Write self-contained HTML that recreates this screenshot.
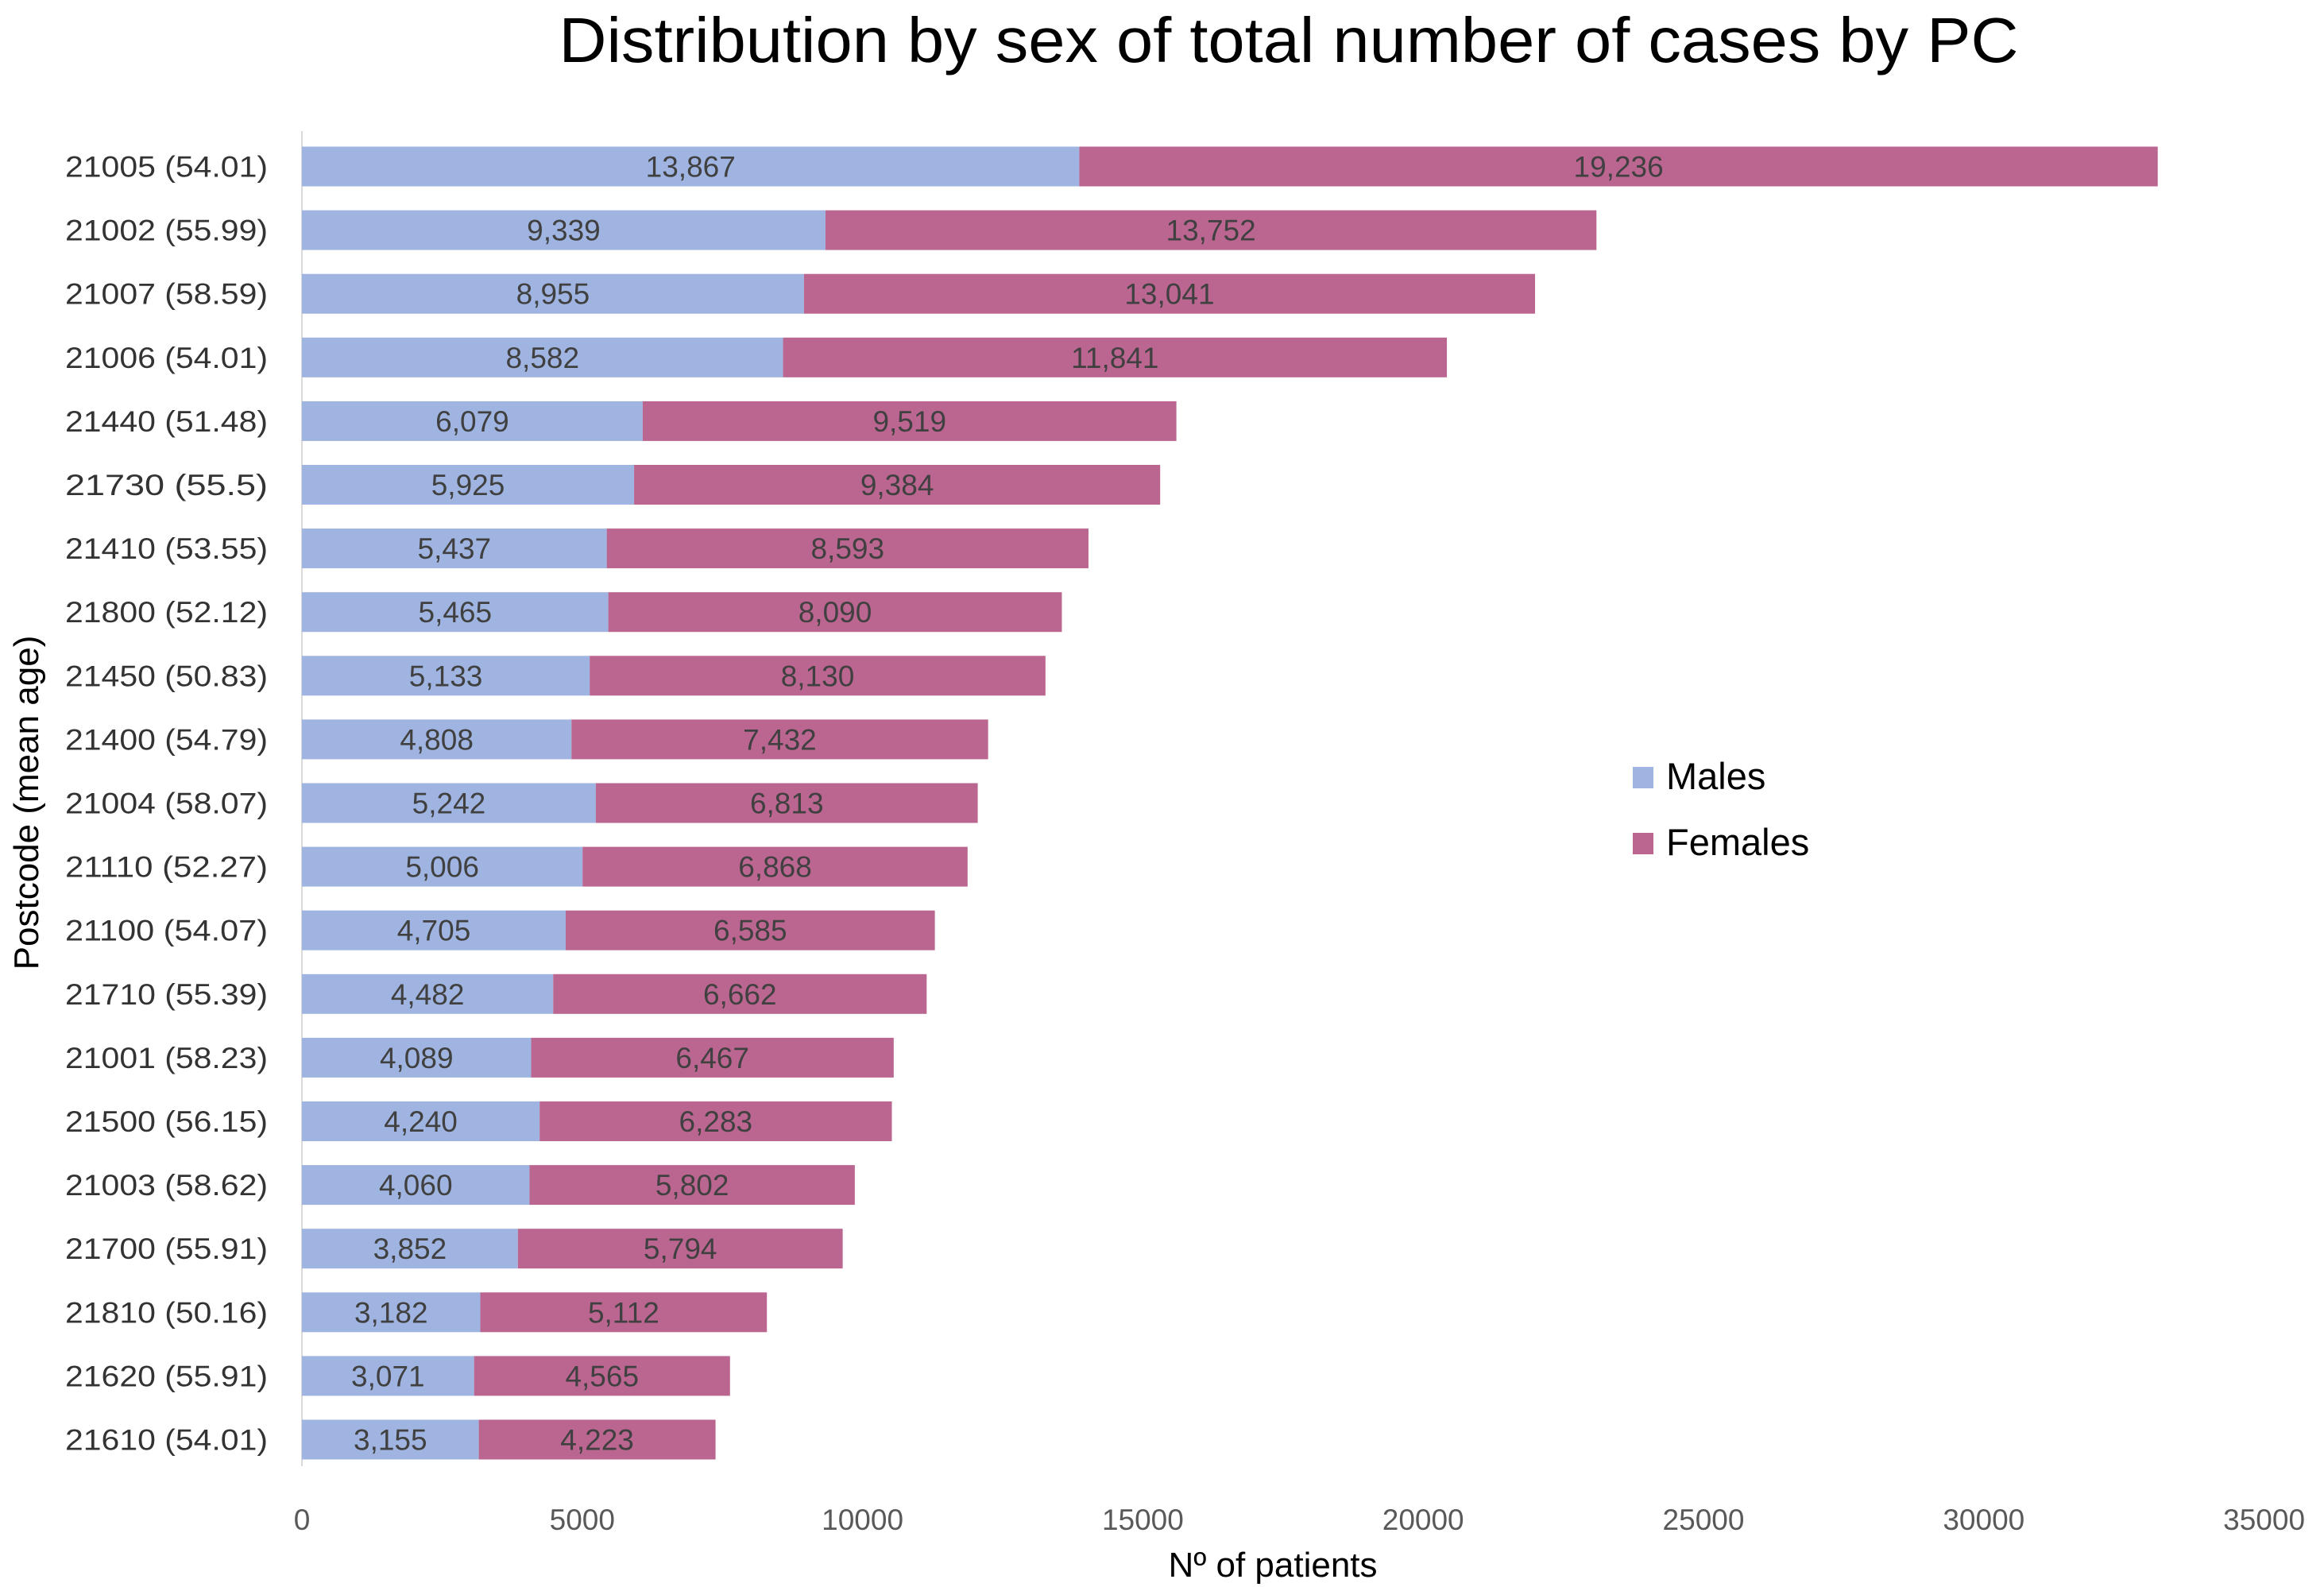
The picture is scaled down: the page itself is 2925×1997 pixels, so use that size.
<!DOCTYPE html>
<html><head><meta charset="utf-8"><style>
html,body{margin:0;padding:0;background:#fff}
svg{display:block}
text{font-family:"Liberation Sans",sans-serif}
</style></head><body>
<svg id="chart" width="2925" height="1997" viewBox="0 0 2925 1997" xmlns="http://www.w3.org/2000/svg">
<text x="1622" y="78" font-size="80" text-anchor="middle" textLength="1837" lengthAdjust="spacingAndGlyphs" fill="#000">Distribution by sex of total number of cases by PC</text>
<line x1="380" y1="165" x2="380" y2="1845" stroke="#d9d9d9" stroke-width="2"/>
<g id="bars"></g>
<g id="ticks"></g>
<text x="1602" y="1984" font-size="44" text-anchor="middle" fill="#000">Nº of patients</text>
<text transform="translate(48,1010) rotate(-90)" font-size="44" text-anchor="middle" fill="#000">Postcode (mean age)</text>
<g>
<rect x="2055" y="965" width="26" height="27" fill="#9fb4e0"/>
<text x="2097" y="993" font-size="47" fill="#000">Males</text>
<rect x="2055" y="1048" width="26" height="27" fill="#bb6690"/>
<text x="2097" y="1076" font-size="47" fill="#000">Females</text>
</g>
</svg>
<script>
const categories = ["21005 (54.01)","21002 (55.99)","21007 (58.59)","21006 (54.01)","21440 (51.48)","21730 (55.5)","21410 (53.55)","21800 (52.12)","21450 (50.83)","21400 (54.79)","21004 (58.07)","21110 (52.27)","21100 (54.07)","21710 (55.39)","21001 (58.23)","21500 (56.15)","21003 (58.62)","21700 (55.91)","21810 (50.16)","21620 (55.91)","21610 (54.01)"];
const males = [13867,9339,8955,8582,6079,5925,5437,5465,5133,4808,5242,5006,4705,4482,4089,4240,4060,3852,3182,3071,3155];
const females = [19236,13752,13041,11841,9519,9384,8593,8090,8130,7432,6813,6868,6585,6662,6467,6283,5802,5794,5112,4565,4223];
const xTicks = [0,5000,10000,15000,20000,25000,30000,35000];

const NS = "http://www.w3.org/2000/svg";
const X0 = 380, PX_PER = 352.8/5000;
const xs = v => X0 + v*PX_PER;
const Y0 = 209.5, STEP = 80.1, BH = 50;
const ys = i => Y0 + i*STEP;
const fmt = v => v.toLocaleString("en-US");
const bars = document.getElementById("bars");
const ticks = document.getElementById("ticks");
function mk(tag, attrs, parent){const e=document.createElementNS(NS,tag);for(const k in attrs)e.setAttribute(k,attrs[k]);parent.appendChild(e);return e;}

categories.forEach((c,i)=>{
  const cy = ys(i);
  const lab = mk("text",{x:337,y:cy+13,"font-size":37,"text-anchor":"end",fill:"#333",textLength:255,lengthAdjust:"spacingAndGlyphs"},bars);
  lab.textContent = c;
  
  
  const m = mk("rect",{x:xs(0),y:cy-BH/2,width:xs(males[i])-xs(0),height:BH,fill:"#9fb4e0"},bars);
  
  
  const f = mk("rect",{x:xs(males[i]),y:cy-BH/2,width:xs(males[i]+females[i])-xs(males[i]),height:BH,fill:"#bb6690"},bars);
  
  
  const mt = mk("text",{x:(xs(0)+xs(males[i]))/2,y:cy+13,"font-size":37,"text-anchor":"middle",fill:"#404040"},bars);
  mt.textContent = fmt(males[i]);
  
  
  const ft = mk("text",{x:(xs(males[i])+xs(males[i]+females[i]))/2,y:cy+13,"font-size":37,"text-anchor":"middle",fill:"#404040"},bars);
  ft.textContent = fmt(females[i]);
  
  
});
xTicks.forEach(t=>{
  const tt = mk("text",{x:xs(t),y:1925,"font-size":37,"text-anchor":"middle",fill:"#595959"},ticks);
  tt.textContent = t;
  
  
});
</script>
</body></html>
